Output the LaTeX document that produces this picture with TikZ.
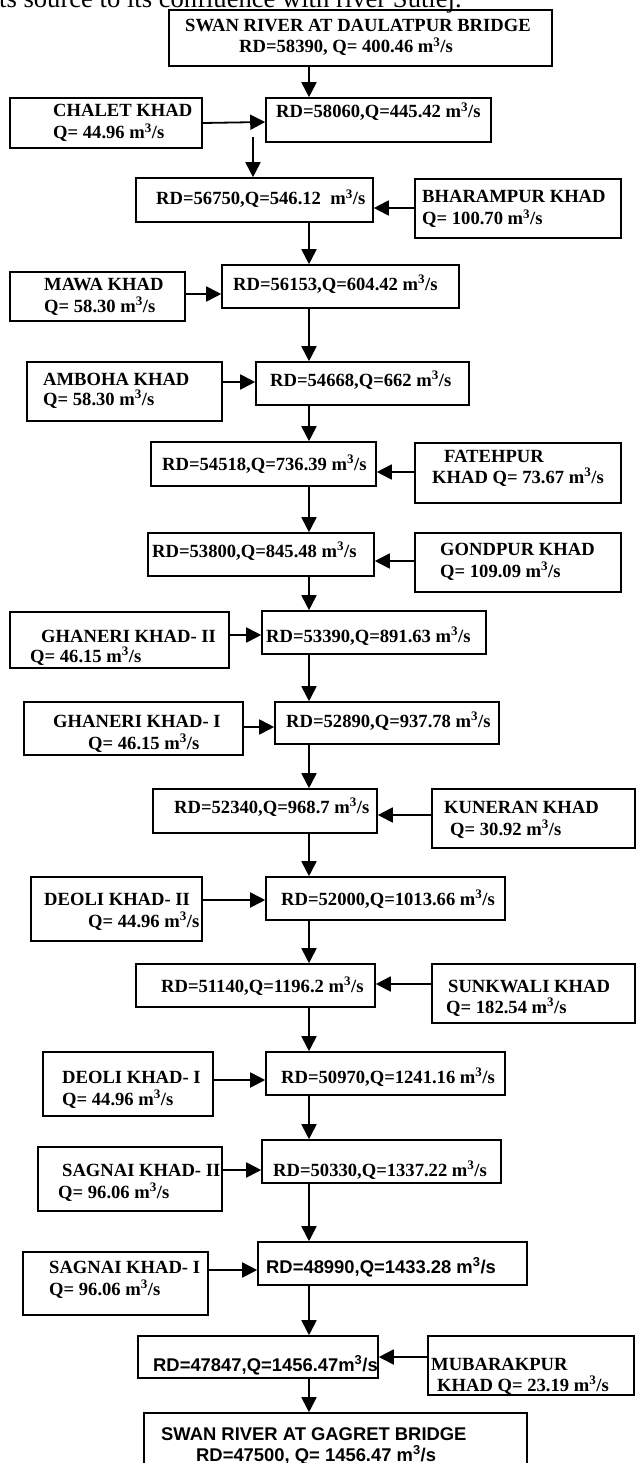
\documentclass[tikz,border=0pt]{standalone}
\usepackage{fontspec}
\setmainfont{Liberation Serif}
\newfontfamily\arialfont{Liberation Sans}
\usetikzlibrary{arrows.meta}
\newcommand{\cumecs}{m\textsuperscript{3}/s}
\begin{document}
\begin{tikzpicture}[x=1pt,y=-1pt,
 box/.style={draw=black, line width=1.6pt, inner sep=0pt, rectangle},
 txt/.style={inner sep=0pt, anchor=base west, font=\fontsize{18.6}{22}\selectfont\bfseries},
 stxt/.style={inner sep=0pt, anchor=base west, font=\fontsize{18.4}{22}\selectfont\arialfont\bfseries},
 arr/.style={line width=1.8pt, -{Triangle[length=15pt,width=15pt]}}]
\useasboundingbox (0,0) rectangle (636,1463);
\clip (0,0) rectangle (636,1463);

\node[inner sep=0pt, anchor=base west, font=\fontsize{26.6}{30}\selectfont] (cap) at (-1,7.5) {ts source to its confluence with river Sutlej.};

% boxes
\node[box, minimum width=383pt, minimum height=56pt] (b1) at (360.5,38) {};
\node[box, minimum width=225pt, minimum height=44pt] (b2) at (378.5,120) {};
\node[box, minimum width=192pt, minimum height=50pt] (chalet) at (106,123) {};
\node[box, minimum width=237pt, minimum height=44pt] (b3) at (254.5,200) {};
\node[box, minimum width=206pt, minimum height=59pt] (bhar) at (518,208.5) {};
\node[box, minimum width=237pt, minimum height=43pt] (b4) at (340.5,286.5) {};
\node[box, minimum width=175pt, minimum height=49pt] (mawa) at (97.5,296.5) {};
\node[box, minimum width=213pt, minimum height=43pt] (b5) at (362.5,383.5) {};
\node[box, minimum width=195pt, minimum height=59pt] (amboha) at (124.5,391.5) {};
\node[box, minimum width=225pt, minimum height=44pt] (b6) at (263.5,464) {};
\node[box, minimum width=206pt, minimum height=60pt] (fateh) at (518,473) {};
\node[box, minimum width=226pt, minimum height=43pt] (b7) at (261,554.5) {};
\node[box, minimum width=206pt, minimum height=59pt] (gond) at (518,562.5) {};
\node[box, minimum width=224pt, minimum height=43pt] (b8) at (374,632.5) {};
\node[box, minimum width=219pt, minimum height=56pt] (gh2) at (119.5,640) {};
\node[box, minimum width=224pt, minimum height=42pt] (b9) at (387,723) {};
\node[box, minimum width=219pt, minimum height=53pt] (gh1) at (133.5,728.5) {};
\node[box, minimum width=224pt, minimum height=44pt] (b10) at (265,811) {};
\node[box, minimum width=203pt, minimum height=59pt] (kun) at (533.5,818.5) {};
\node[box, minimum width=239pt, minimum height=43pt] (b11) at (385.5,898.5) {};
\node[box, minimum width=171pt, minimum height=64pt] (de2) at (116.5,909) {};
\node[box, minimum width=239pt, minimum height=43pt] (b12) at (255.5,985.5) {};
\node[box, minimum width=203pt, minimum height=59pt] (sunk) at (533.5,993.5) {};
\node[box, minimum width=239pt, minimum height=43pt] (b13) at (385.5,1073.5) {};
\node[box, minimum width=170pt, minimum height=64pt] (de1) at (128,1084) {};
\node[box, minimum width=239pt, minimum height=43pt] (b14) at (381.5,1161.5) {};
\node[box, minimum width=184pt, minimum height=64pt] (sa2) at (130,1179) {};
\node[box, minimum width=269pt, minimum height=43pt] (b15) at (392.5,1263.5) {};
\node[box, minimum width=185pt, minimum height=63pt] (sa1) at (115.5,1283.5) {};
\node[box, minimum width=240pt, minimum height=42pt] (b16) at (258,1357) {};
\node[box, minimum width=206pt, minimum height=59pt] (mub) at (531,1365.5) {};
\node[box, minimum width=383pt, minimum height=62pt] (b17) at (335.5,1444) {};

% texts
\node[txt] (t1a) at (185,32) {SWAN RIVER AT DAULATPUR BRIDGE};
\node[txt] (t1b) at (239,53) {RD=58390, Q= 400.46 \cumecs};
\node[txt] (t2) at (276,118) {RD=58060,Q=445.42 \cumecs};
\node[txt] (tcha) at (53,117) {CHALET KHAD};
\node[txt] (tchb) at (53,139) {Q= 44.96 \cumecs};
\node[txt] (t3) at (156,205) {RD=56750,Q=546.12\ \ \cumecs};
\node[txt] (tbha) at (422,203) {BHARAMPUR KHAD};
\node[txt] (tbhb) at (422,225) {Q= 100.70 \cumecs};
\node[txt] (t4) at (233,290) {RD=56153,Q=604.42 \cumecs};
\node[txt] (tmaa) at (44,290) {MAWA KHAD};
\node[txt] (tmab) at (44,312) {Q= 58.30 \cumecs};
\node[txt] (t5) at (270,386) {RD=54668,Q=662 \cumecs};
\node[txt] (tama) at (43,385) {AMBOHA KHAD};
\node[txt] (tamb) at (43,405) {Q= 58.30 \cumecs};
\node[txt] (t6) at (162,470) {RD=54518,Q=736.39 \cumecs};
\node[txt] (tfaa) at (444,462) {FATEHPUR};
\node[txt] (tfab) at (432,483) {KHAD Q= 73.67 \cumecs};
\node[txt] (t7) at (152,557) {RD=53800,Q=845.48 \cumecs};
\node[txt] (tgoa) at (440,555) {GONDPUR KHAD};
\node[txt] (tgob) at (440,577) {Q= 109.09 \cumecs};
\node[txt] (t8) at (266,642) {RD=53390,Q=891.63 \cumecs};
\node[txt] (tg2a) at (41,642) {GHANERI KHAD- II};
\node[txt] (tg2b) at (30,662) {Q= 46.15 \cumecs};
\node[txt] (t9) at (286,727) {RD=52890,Q=937.78 \cumecs};
\node[txt] (tg1a) at (53,727) {GHANERI KHAD- I};
\node[txt] (tg1b) at (88,749) {Q= 46.15 \cumecs};
\node[txt] (t10) at (174,813) {RD=52340,Q=968.7 \cumecs};
\node[txt] (tkua) at (444,813) {KUNERAN KHAD};
\node[txt] (tkub) at (450,835) {Q= 30.92 \cumecs};
\node[txt] (t11) at (281,905) {RD=52000,Q=1013.66 \cumecs};
\node[txt] (td2a) at (44,905) {DEOLI KHAD- II};
\node[txt] (td2b) at (88,927) {Q= 44.96 \cumecs};
\node[txt] (t12) at (161,992) {RD=51140,Q=1196.2 \cumecs};
\node[txt] (tsua) at (448,992) {SUNKWALI KHAD};
\node[txt] (tsub) at (446,1013) {Q= 182.54 \cumecs};
\node[txt] (t13) at (281,1083) {RD=50970,Q=1241.16 \cumecs};
\node[txt] (td1a) at (62,1083) {DEOLI KHAD- I};
\node[txt] (td1b) at (62,1105) {Q= 44.96 \cumecs};
\node[txt] (t14) at (273,1176) {RD=50330,Q=1337.22 \cumecs};
\node[txt] (ts2a) at (62,1176) {SAGNAI KHAD- II};
\node[txt] (ts2b) at (58,1198) {Q= 96.06 \cumecs};
\node[stxt] (t15) at (266,1273) {RD=48990,Q=1433.28 \cumecs};
\node[txt] (ts1a) at (49,1273) {SAGNAI KHAD- I};
\node[txt] (ts1b) at (49,1295) {Q= 96.06 \cumecs};
\node[stxt] (t16) at (153,1371) {RD=47847,Q=1456.47\cumecs};
\node[txt] (tmua) at (431,1370) {MUBARAKPUR};
\node[txt] (tmub) at (437,1391) {KHAD Q= 23.19 \cumecs};
\node[stxt] (t17a) at (161,1440) {SWAN RIVER AT GAGRET BRIDGE};
\node[stxt] (t17b) at (196,1461) {RD=47500, Q= 1456.47 \cumecs};

% connectors
\coordinate (fa) at (253,137);
\draw[arr] (b1.south -| 309,0) -- (b2.north -| 309,0);
\draw[arr] (chalet.east |- 0,123) -- (b2.west |- 0,122);
\draw[arr] (fa) -- (b3.north -| fa);
\draw[arr] (bhar.west |- 0,208) -- (b3.east |- 0,208);
\draw[arr] (b3.south -| 309,0) -- (b4.north -| 309,0);
\draw[arr] (mawa.east |- 0,294) -- (b4.west |- 0,294);
\draw[arr] (b4.south -| 309,0) -- (b5.north -| 309,0);
\draw[arr] (amboha.east |- 0,382) -- (b5.west |- 0,382);
\draw[arr] (b5.south -| 309,0) -- (b6.north -| 309,0);
\draw[arr] (fateh.west |- 0,472) -- (b6.east |- 0,472);
\draw[arr] (b6.south -| 309,0) -- (b7.north -| 309,0);
\draw[arr] (gond.west |- 0,561) -- (b7.east |- 0,561);
\draw[arr] (b7.south -| 309,0) -- (b8.north -| 309,0);
\draw[arr] (gh2.east |- 0,635) -- (b8.west |- 0,635);
\draw[arr] (b8.south -| 309,0) -- (b9.north -| 309,0);
\draw[arr] (gh1.east |- 0,727) -- (b9.west |- 0,727);
\draw[arr] (b9.south -| 309,0) -- (b10.north -| 309,0);
\draw[arr] (kun.west |- 0,815) -- (b10.east |- 0,815);
\draw[arr] (b10.south -| 309,0) -- (b11.north -| 309,0);
\draw[arr] (de2.east |- 0,900) -- (b11.west |- 0,900);
\draw[arr] (b11.south -| 309,0) -- (b12.north -| 309,0);
\draw[arr] (sunk.west |- 0,984) -- (b12.east |- 0,984);
\draw[arr] (b12.south -| 309,0) -- (b13.north -| 309,0);
\draw[arr] (de1.east |- 0,1080) -- (b13.west |- 0,1080);
\draw[arr] (b13.south -| 309,0) -- (b14.north -| 309,0);
\draw[arr] (sa2.east |- 0,1170) -- (b14.west |- 0,1170);
\draw[arr] (b14.south -| 309,0) -- (b15.north -| 309,0);
\draw[arr] (sa1.east |- 0,1270) -- (b15.west |- 0,1270);
\draw[arr] (b15.south -| 309,0) -- (b16.north -| 309,0);
\draw[arr] (mub.west |- 0,1357) -- (b16.east |- 0,1357);
\draw[arr] (b16.south -| 309,0) -- (b17.north -| 309,0);
\end{tikzpicture}
\end{document}
